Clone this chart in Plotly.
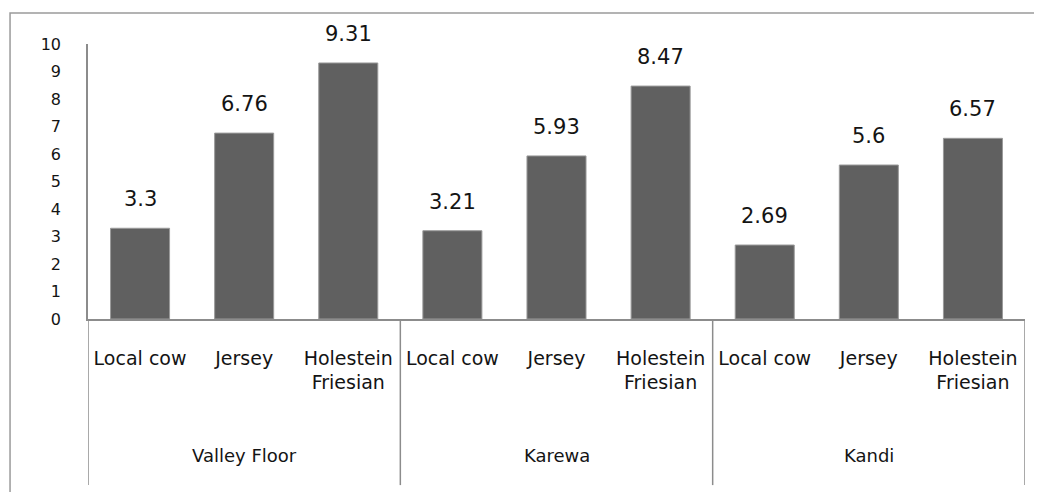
import plotly.graph_objects as go

regions = ["Valley Floor", "Karewa", "Kandi"]
breeds = ["Local cow", "Jersey", "Holestein<br>Friesian"]
values = [3.3, 6.76, 9.31, 3.21, 5.93, 8.47, 2.69, 5.6, 6.57]
value_labels = ["3.3", "6.76", "9.31", "3.21", "5.93", "8.47", "2.69", "5.6", "6.57"]
y_ticks = list(range(0, 11))

FONT = "DejaVu Sans"
TXT = "#141414"
AX = "#8c8c8c"

n = len(regions) * len(breeds)
xs = list(range(n))
tick_text = [b for _ in regions for b in breeds]

fig = go.Figure()
fig.add_trace(go.Bar(
    x=xs, y=values,
    marker=dict(color="#606060", line=dict(color="#9a9a9a", width=1)),
    hoverinfo="skip",
))

for x, v, t in zip(xs, values, value_labels):
    fig.add_annotation(x=x, y=v, text=t, showarrow=False, yshift=29,
                       font=dict(family=FONT, size=21, color=TXT))

nb = len(breeds)
for i, r in enumerate(regions):
    center = i * nb + (nb - 1) / 2
    fig.add_annotation(x=center, y=-0.495, yref="paper", text=r, showarrow=False,
                       font=dict(family=FONT, size=18, color=TXT), yanchor="middle")

for k in range(len(regions) + 1):
    xd = k * nb - 0.5
    fig.add_shape(type="line", x0=xd, x1=xd, y0=0, y1=-0.604, xref="x", yref="paper",
                  line=dict(color=AX, width=1.5))

# outer frame (partially outside the visible page)
fig.add_shape(type="rect", xref="paper", yref="paper", x0=-0.0832, x1=1.2, y0=-1.0, y1=1.1127,
              line=dict(color="#9a9a9a", width=1.5), fillcolor="rgba(0,0,0,0)", layer="below")

fig.update_layout(
    width=1034, height=484,
    margin=dict(l=80, r=17, t=36, b=173),
    paper_bgcolor="white", plot_bgcolor="white",
    showlegend=False, bargap=0.433,
    xaxis=dict(range=[-0.5, n - 0.5], tickmode="array", tickvals=xs, ticktext=tick_text,
               showgrid=False, zeroline=False, showline=True, linecolor=AX, linewidth=1.5,
               ticks="", ticklabelstandoff=21,
               tickfont=dict(family=FONT, size=19, color=TXT)),
    yaxis=dict(range=[0, 10], tickvals=y_ticks, showgrid=False, zeroline=False,
               showline=True, linecolor=AX, linewidth=1.5, ticks="",
               ticklabelstandoff=22,
               tickfont=dict(family=FONT, size=16, color=TXT)),
)

fig.write_html("out.html")
